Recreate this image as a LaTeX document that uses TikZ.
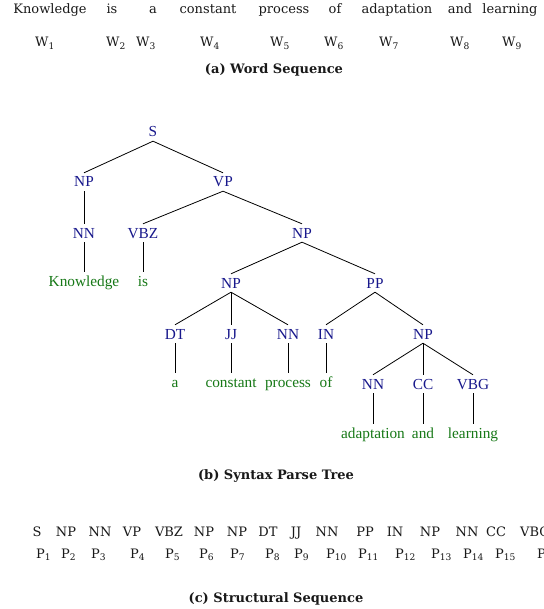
\documentclass[tikz,border=0pt]{standalone}
\usepackage{fontspec}
\setmainfont{DejaVu Serif}
\newfontfamily\treefont{Liberation Serif}
\definecolor{labelblue}{RGB}{24,24,140}
\definecolor{wordgreen}{RGB}{22,120,22}
\begin{document}
\begin{tikzpicture}[x=1pt,y=-1pt,
  seqtext/.style={anchor=base,inner sep=0pt,font=\fontsize{13}{15}\selectfont,text=black!90},
  subtext/.style={anchor=base west,inner sep=0pt,font=\fontsize{13}{15}\selectfont,text=black!90},
  captext/.style={anchor=base,inner sep=0pt,font=\fontsize{13}{15}\selectfont\bfseries,text=black!90},
  tlabel/.style={anchor=base,inner xsep=1pt,inner ysep=4pt,text height=10pt,text depth=0pt,
    font=\treefont\fontsize{15.3}{18}\selectfont,text=labelblue},
  tword/.style={anchor=base,inner xsep=1pt,inner ysep=4pt,text height=10.5pt,text depth=0pt,
    font=\treefont\fontsize{15.3}{18}\selectfont,text=wordgreen},
  edge/.style={draw=black,line width=0.8pt}]
\useasboundingbox (0,0) rectangle (543,609);
\clip (0,0) rectangle (543,609);
\fill[white] (0,0) rectangle (543,609);

% (a) word sequence
\node[seqtext] (k) at (50,14) {Knowledge};
\node[seqtext] (is) at (112,14) {is};
\node[seqtext] (aa) at (153,14) {a};
\node[seqtext] (con) at (208,14) {constant};
\node[seqtext] (pro) at (284,14) {process};
\node[seqtext] (of) at (335,14) {of};
\node[seqtext] (ada) at (397,14) {adaptation};
\node[seqtext] (and) at (460,14) {and};
\node[seqtext] (lea) at (510,14) {learning};

\node[subtext] (w1) at (35,47) {W\textsubscript{1}};
\node[subtext] (w2) at (106,47) {W\textsubscript{2}};
\node[subtext] (w3) at (136,47) {W\textsubscript{3}};
\node[subtext] (w4) at (200,47) {W\textsubscript{4}};
\node[subtext] (w5) at (270,47) {W\textsubscript{5}};
\node[subtext] (w6) at (324,47) {W\textsubscript{6}};
\node[subtext] (w7) at (379,47) {W\textsubscript{7}};
\node[subtext] (w8) at (450,47) {W\textsubscript{8}};
\node[subtext] (w9) at (502,47) {W\textsubscript{9}};

\node[captext] (capa) at (274,74) {(a) Word Sequence};

% (b) parse tree
\node[tlabel] (s) at (153,137) {S};
\node[tlabel] (np1) at (84,187) {NP};
\node[tlabel] (vp) at (223,187) {VP};
\node[tlabel] (nn1) at (84,238) {NN};
\node[tlabel] (vbz) at (143,238) {VBZ};
\node[tlabel] (np2) at (302,238) {NP};
\node[tword] (tk) at (84,286.5) {Knowledge};
\node[tword] (tis) at (143,286.5) {is};
\node[tlabel] (np3) at (231,288) {NP};
\node[tlabel] (pp) at (375,288) {PP};
\node[tlabel] (dt) at (175,339) {DT};
\node[tlabel] (jj) at (231,339) {JJ};
\node[tlabel] (nn2) at (288,339) {NN};
\node[tlabel] (in) at (326,339) {IN};
\node[tlabel] (np4) at (423,339) {NP};
\node[tword] (ta) at (175,387.5) {a};
\node[tword] (tcon) at (231,387.5) {constant};
\node[tword] (tpro) at (288,387.5) {process};
\node[tword] (tof) at (326,387.5) {of};
\node[tlabel] (nn3) at (373,389) {NN};
\node[tlabel] (cc) at (423,389) {CC};
\node[tlabel] (vbg) at (473,389) {VBG};
\node[tword] (tada) at (373,438.5) {adaptation};
\node[tword] (tand) at (423,438.5) {and};
\node[tword] (tlea) at (473,438.5) {learning};

\draw[edge] (s.south) -- (np1.north);
\draw[edge] (s.south) -- (vp.north);
\draw[edge] (np1.south) -- (nn1.north);
\draw[edge] (nn1.south) -- (tk.north);
\draw[edge] (vp.south) -- (vbz.north);
\draw[edge] (vp.south) -- (np2.north);
\draw[edge] (vbz.south) -- (tis.north);
\draw[edge] (np2.south) -- (np3.north);
\draw[edge] (np2.south) -- (pp.north);
\draw[edge] (np3.south) -- (dt.north);
\draw[edge] (np3.south) -- (jj.north);
\draw[edge] (np3.south) -- (nn2.north);
\draw[edge] (pp.south) -- (in.north);
\draw[edge] (pp.south) -- (np4.north);
\draw[edge] (dt.south) -- (ta.north);
\draw[edge] (jj.south) -- (tcon.north);
\draw[edge] (nn2.south) -- (tpro.north);
\draw[edge] (in.south) -- (tof.north);
\draw[edge] (np4.south) -- (nn3.north);
\draw[edge] (np4.south) -- (cc.north);
\draw[edge] (np4.south) -- (vbg.north);
\draw[edge] (nn3.south) -- (tada.north);
\draw[edge] (cc.south) -- (tand.north);
\draw[edge] (vbg.south) -- (tlea.north);

\node[captext] (capb) at (276,479) {(b) Syntax Parse Tree};

% (c) structural sequence
\node[seqtext] (l1) at (37,536) {S};
\node[seqtext] (l2) at (66,536) {NP};
\node[seqtext] (l3) at (100,536) {NN};
\node[seqtext] (l4) at (132,536) {VP};
\node[seqtext] (l5) at (169,536) {VBZ};
\node[seqtext] (l6) at (204,536) {NP};
\node[seqtext] (l7) at (237,536) {NP};
\node[seqtext] (l8) at (268,536) {DT};
\node[seqtext] (l9) at (296,536) {JJ};
\node[seqtext] (l10) at (327,536) {NN};
\node[seqtext] (l11) at (365,536) {PP};
\node[seqtext] (l12) at (395,536) {IN};
\node[seqtext] (l13) at (430,536) {NP};
\node[seqtext] (l14) at (467,536) {NN};
\node[seqtext] (l15) at (496,536) {CC};
\node[seqtext,anchor=base west] (l16) at (520,536) {VBG};

\node[subtext] (p1) at (36,558) {P\textsubscript{1}};
\node[subtext] (p2) at (61,558) {P\textsubscript{2}};
\node[subtext] (p3) at (91,558) {P\textsubscript{3}};
\node[subtext] (p4) at (130,558) {P\textsubscript{4}};
\node[subtext] (p5) at (165,558) {P\textsubscript{5}};
\node[subtext] (p6) at (199,558) {P\textsubscript{6}};
\node[subtext] (p7) at (230,558) {P\textsubscript{7}};
\node[subtext] (p8) at (265,558) {P\textsubscript{8}};
\node[subtext] (p9) at (294,558) {P\textsubscript{9}};
\node[subtext] (p10) at (326,558) {P\textsubscript{10}};
\node[subtext] (p11) at (358,558) {P\textsubscript{11}};
\node[subtext] (p12) at (395,558) {P\textsubscript{12}};
\node[subtext] (p13) at (431,558) {P\textsubscript{13}};
\node[subtext] (p14) at (463,558) {P\textsubscript{14}};
\node[subtext] (p15) at (495,558) {P\textsubscript{15}};
\node[subtext] (p16) at (537,558) {P\textsubscript{16}};

\node[captext] (capc) at (276,602) {(c) Structural Sequence};
\end{tikzpicture}
\end{document}
